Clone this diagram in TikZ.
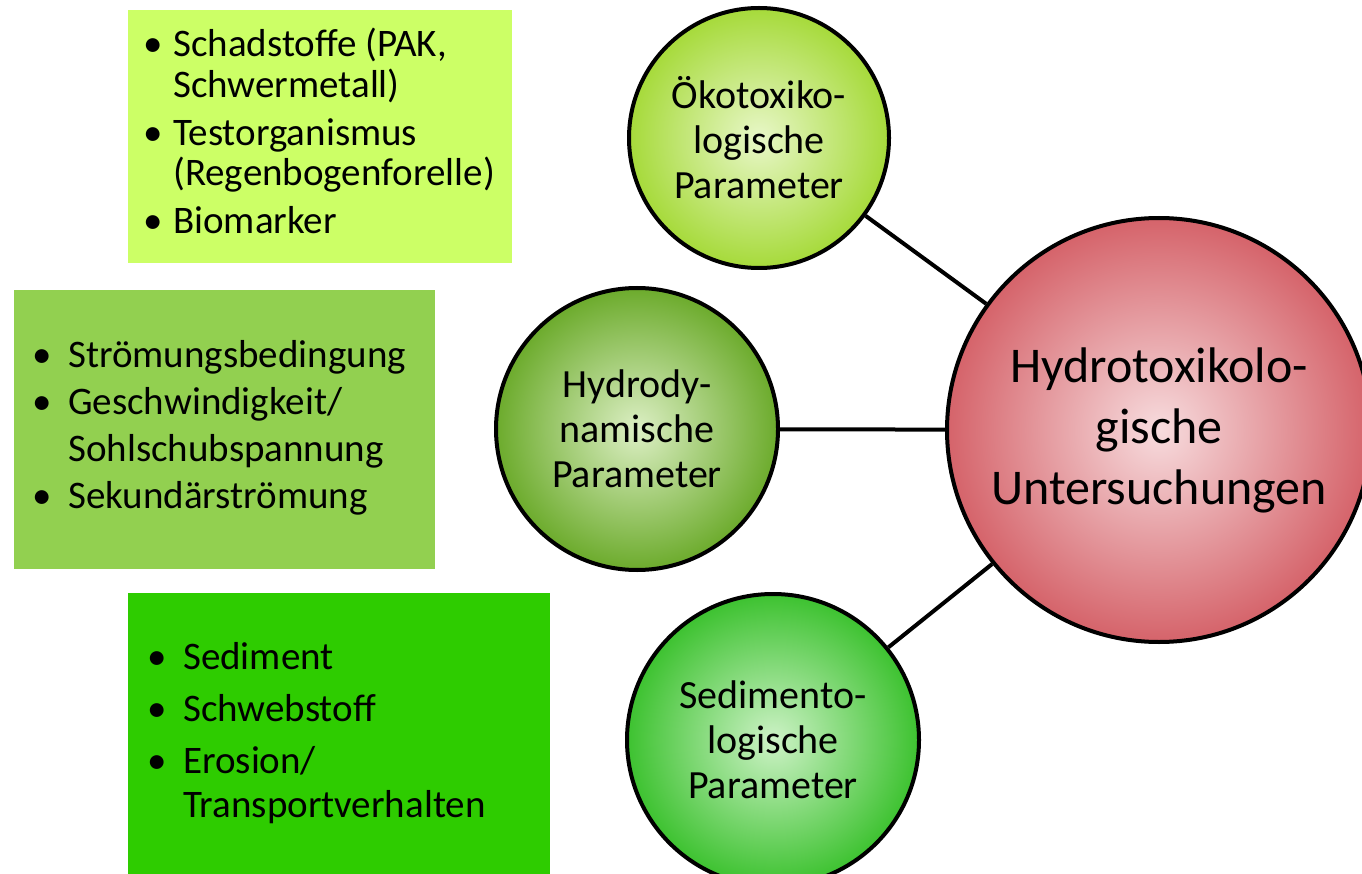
\documentclass[tikz,border=0pt]{standalone}
\usepackage{fontspec}
\setmainfont{Carlito}
\definecolor{boxA}{HTML}{CCFF66}
\definecolor{boxB}{HTML}{92D050}
\definecolor{boxC}{HTML}{2ECC00}
\definecolor{okoIn}{HTML}{E8F7C8}
\definecolor{okoOut}{HTML}{A6DA3A}
\definecolor{hydIn}{HTML}{DCEFC4}
\definecolor{hydOut}{HTML}{6CAB2C}
\definecolor{sedIn}{HTML}{CDF2C6}
\definecolor{sedOut}{HTML}{3DC230}
\definecolor{bigIn}{HTML}{F7DCDE}
\definecolor{bigOut}{HTML}{D5636A}
\newcommand{\bl}{\textbullet}
\begin{document}
\begin{tikzpicture}[x=1pt,y=-1pt,
  listbox/.style={rectangle, inner sep=0pt, anchor=north west},
  listtxt/.style={inner sep=0pt, anchor=west, align=left},
  circ/.style={circle, draw=black, line width=4pt, inner sep=0pt, align=center,
    font=\fontsize{40}{45}\selectfont},
  conn/.style={line width=4pt}]
\path[use as bounding box, fill=white] (0,0) rectangle (1362,874);

% boxes
\node[listbox, fill=boxA, minimum width=384pt, minimum height=253pt] (bA) at (128,10) {};
\node[listbox, fill=boxB, minimum width=421pt, minimum height=279pt] (bB) at (14,290) {};
\node[listbox, fill=boxC, minimum width=422pt, minimum height=281pt] (bC) at (128,593) {};

\node[listtxt] (tA) at (133,137) {\fontsize{39}{40}\selectfont
  \begin{tabular}{@{}p{40pt}@{}l@{}}
  \makebox[40pt][c]{\bl} & Schadstoffe (PAK,\\
  & Schwermetall)\\[8pt]
  \makebox[40pt][c]{\bl} & Testorganismus\\
  & (Regenbogenforelle)\\[8pt]
  \makebox[40pt][c]{\bl} & Biomarker
  \end{tabular}};

\node[listtxt] (tB) at (16,429) {\fontsize{39}{47}\selectfont
  \begin{tabular}{@{}p{52pt}@{}l@{}}
  \makebox[52pt][c]{\bl} & Strömungsbedingung\\
  \makebox[52pt][c]{\bl} & Geschwindigkeit/\\
  & Sohlschubspannung\\
  \makebox[52pt][c]{\bl} & Sekundärströmung
  \end{tabular}};

\node[listtxt] (tC) at (131,735) {\fontsize{39}{44}\selectfont
  \begin{tabular}{@{}p{52pt}@{}l@{}}
  \makebox[52pt][c]{\bl} & Sediment\\[8pt]
  \makebox[52pt][c]{\bl} & Schwebstoff\\[8pt]
  \makebox[52pt][c]{\bl} & Erosion/\\
  & Transportverhalten
  \end{tabular}};

% circles
\node[circ, minimum size=260pt, inner color=okoIn, outer color=okoOut] (oko) at (759,138)
  {Ökotoxiko-\\logische\\Parameter};
\node[circ, minimum size=282pt, inner color=hydIn, outer color=hydOut] (hyd) at (637,429)
  {Hydrody-\\namische\\Parameter};
\node[circ, minimum size=292pt, inner color=sedIn, outer color=sedOut] (sed) at (773,740)
  {Sedimento-\\logische\\Parameter};
\node[circ, minimum size=424pt, inner color=bigIn, outer color=bigOut,
  font=\fontsize{50}{61}\selectfont] (big) at (1159,430)
  {Hydrotoxikolo-\\gische\\Untersuchungen};

% connectors
\draw[conn] (oko) -- (big);
\draw[conn] (hyd) -- (big);
\draw[conn] (sed) -- (big);
\end{tikzpicture}
\end{document}
